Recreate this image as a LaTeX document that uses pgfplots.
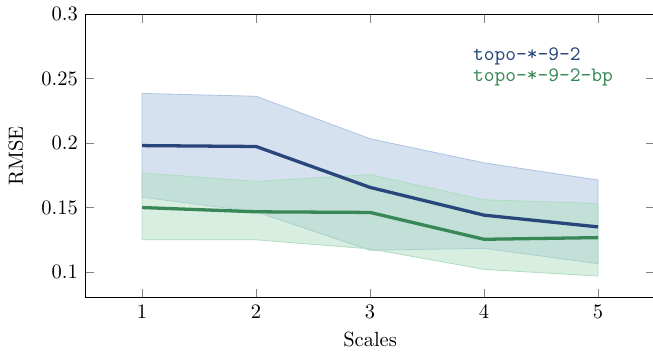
\documentclass[border=0pt]{standalone}
\usepackage{pgfplots}
\pgfplotsset{compat=1.18}
\definecolor{bline}{RGB}{40,70,122}
\definecolor{gline}{RGB}{55,136,86}
\definecolor{bfill}{RGB}{173,195,225}
\definecolor{gfill}{RGB}{175,221,193}
\begin{document}
\begin{tikzpicture}
\begin{axis}[
  scale only axis,
  width=278pt, height=138.5pt,
  xmin=0.5, xmax=5.5, ymin=0.08, ymax=0.3,
  xtick={1,2,3,4,5},
  ytick={0.1,0.15,0.2,0.25,0.3},
  yticklabel style={/pgf/number format/fixed},
  xlabel={Scales}, ylabel={RMSE},
  ylabel style={yshift=2pt},
  legend style={draw=none, fill=none, at={(0.662,0.91)}, anchor=north west, font=\ttfamily, row sep=-1.5pt},
  legend cell align=left,
  legend image code/.code={},
]
\addplot[forget plot, fill=bfill, fill opacity=0.5, draw=bfill, line width=0.4pt] coordinates {
 (1,0.2384) (2,0.2362) (3,0.2033) (4,0.1846) (5,0.1713)
 (5,0.1065) (4,0.1184) (3,0.1169) (2,0.1467) (1,0.158)} -- cycle;
\addplot[forget plot, fill=gfill, fill opacity=0.5, draw=gfill, line width=0.4pt] coordinates {
 (1,0.1768) (2,0.1703) (3,0.1755) (4,0.156) (5,0.1532)
 (5,0.0969) (4,0.1021) (3,0.118) (2,0.125) (1,0.125)} -- cycle;
\addplot[bline, line width=1.6pt] coordinates {(1,0.198) (2,0.1973) (3,0.1656) (4,0.1441) (5,0.135)};
\addlegendentry{\textcolor{bline}{topo-*-9-2}}
\addplot[gline, line width=1.6pt] coordinates {(1,0.15) (2,0.1467) (3,0.1462) (4,0.1254) (5,0.1267)};
\addlegendentry{\textcolor{gline}{topo-*-9-2-bp}}
\end{axis}
\pgfresetboundingbox
\path[use as bounding box] ([shift={(-41.5pt,-27.3pt)}]current axis.south west) rectangle ([shift={(-1pt,6.8pt)}]current axis.north east);
\end{tikzpicture}
\end{document}
